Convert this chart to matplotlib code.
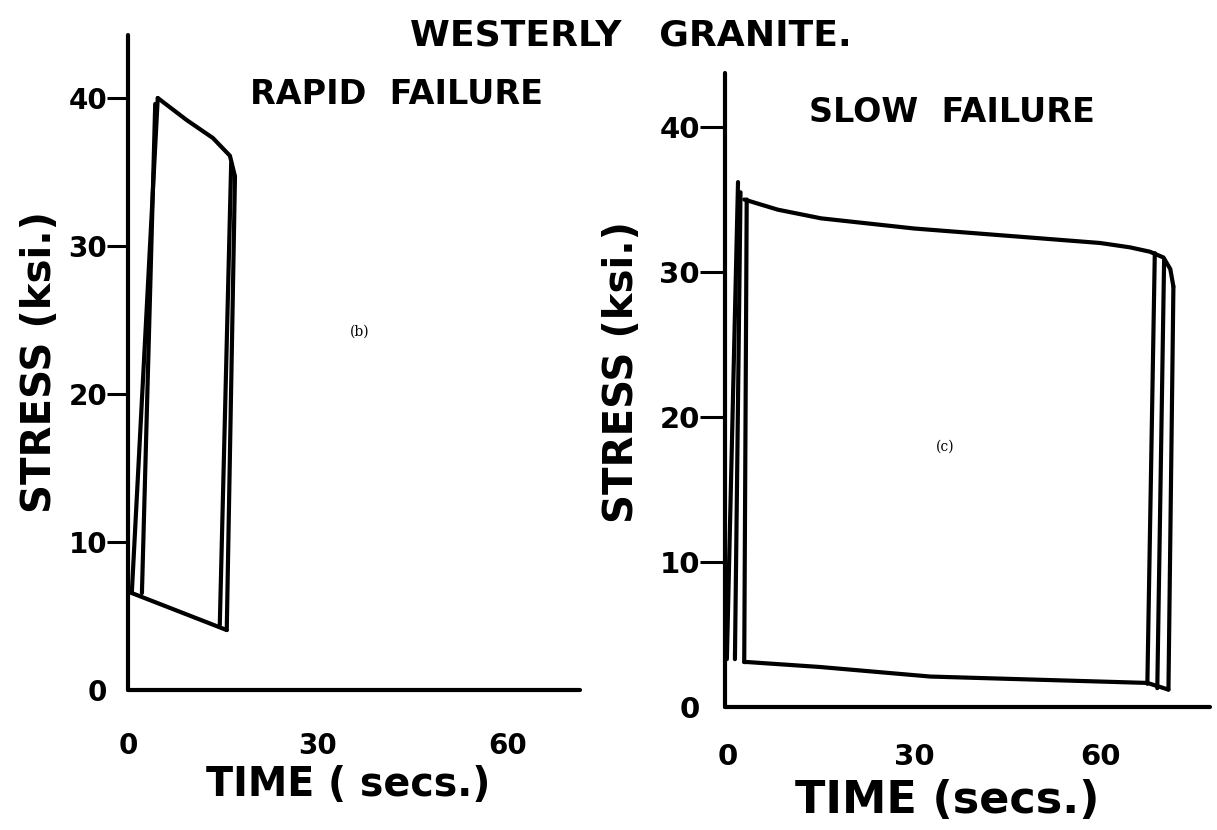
import matplotlib
matplotlib.use("Agg")
import matplotlib.pyplot as plt

plt.rcParams['font.family'] = ['DejaVu Sans']

# ---------------- data (time in s, stress in ksi) ----------------
yticks = [0, 10, 20, 30, 40]
xticks = [0, 30, 60]

# (b) rapid failure
rapid_load1_t = [0.6, 4.7]
rapid_load1_s = [6.55, 40.0]
rapid_load2_t = [2.2, 4.3]
rapid_load2_s = [6.55, 39.6]
rapid_top_t = [4.7, 9.3, 13.4, 16.1, 16.9]
rapid_top_s = [40.0, 38.5, 37.3, 36.1, 34.7]
rapid_drop1_t = [16.9, 15.6]
rapid_drop1_s = [34.7, 4.05]
rapid_drop2_t = [16.3, 14.5]
rapid_drop2_s = [35.6, 4.4]
rapid_bottom_t = [15.6, 0.6]
rapid_bottom_s = [4.05, 6.55]

# (c) slow failure
slow_load1_t = [-0.2, 1.6]
slow_load1_s = [3.3, 36.2]
slow_load2_t = [1.1, 2.0]
slow_load2_s = [3.3, 35.5]
slow_load3_t = [2.6, 3.0]
slow_load3_s = [3.1, 35.0]
slow_top_t = [2.6, 8, 15, 30, 45, 60, 64.8, 68, 70.2, 71.3, 71.8]
slow_top_s = [35.0, 34.3, 33.7, 33.0, 32.5, 32.0, 31.7, 31.4, 31.0, 30.2, 29.0]
slow_drop1_t = [71.8, 71.0]
slow_drop1_s = [29.0, 1.2]
slow_drop2_t = [70.3, 69.2]
slow_drop2_s = [30.8, 1.3]
slow_drop3_t = [68.8, 67.6]
slow_drop3_s = [31.3, 1.6]
slow_bottom_t = [71.0, 67.6, 32.6, 14.8, 3.1, 2.6]
slow_bottom_s = [1.2, 1.66, 2.1, 2.76, 3.1, 3.1]

# ---------------- figure ----------------
W, H = 1217, 830
fig = plt.figure(figsize=(W / 100, H / 100), dpi=100)
fig.patch.set_facecolor('white')

LW = 3.0
FONT = dict(family='DejaVu Sans', weight='bold')


def px_axes(x0, y0, x1, y1):
    return fig.add_axes([x0 / W, 1 - y1 / H, (x1 - x0) / W, (y1 - y0) / H])


def style(ax, xlim, ylim, xpad, ylen, fs):
    ax.set_xlim(*xlim)
    ax.set_ylim(*ylim)
    for side in ('top', 'right'):
        ax.spines[side].set_visible(False)
    for side in ('left', 'bottom'):
        ax.spines[side].set_linewidth(LW)
        ax.spines[side].set_capstyle('round')
    ax.set_yticks(yticks)
    ax.set_xticks(xticks)
    ax.set_yticklabels([str(v) for v in yticks], fontsize=fs, **FONT)
    ax.set_xticklabels([str(v) for v in xticks], fontsize=fs, **FONT)
    ax.tick_params(axis='y', length=ylen, width=2.2, pad=0, direction='out')
    ax.tick_params(axis='x', length=0, pad=xpad)
    ax.yaxis.get_major_ticks()[0].tick1line.set_visible(False)
    ax.patch.set_alpha(0)


def trace(ax, t, s):
    ax.plot(t, s, color='black', lw=LW, solid_capstyle='round',
            solid_joinstyle='round', clip_on=False)


# left panel
axL = px_axes(128, 35, 580, 690)
style(axL, (0, 452 / 6.33), (0, 655 / 14.8), 30, 15, 20)
for t, s in [(rapid_load1_t, rapid_load1_s), (rapid_load2_t, rapid_load2_s),
             (rapid_top_t, rapid_top_s), (rapid_drop1_t, rapid_drop1_s),
             (rapid_drop2_t, rapid_drop2_s), (rapid_bottom_t, rapid_bottom_s)]:
    trace(axL, t, s)
axL.text(0.513, 0.547, '(b)', transform=axL.transAxes, fontsize=10,
         family='DejaVu Serif', ha='center', va='center')

# right panel
axR = px_axes(725, 73, 1210, 707)
style(axR, (-0.5, 77.7), (0, 634 / 14.5), 26, 18, 21)
for t, s in [(slow_load1_t, slow_load1_s), (slow_load2_t, slow_load2_s),
             (slow_load3_t, slow_load3_s), (slow_top_t, slow_top_s),
             (slow_drop1_t, slow_drop1_s), (slow_drop2_t, slow_drop2_s),
             (slow_drop3_t, slow_drop3_s), (slow_bottom_t, slow_bottom_s)]:
    trace(axR, t, s)
axR.text(0.454, 0.41, '(c)', transform=axR.transAxes, fontsize=10,
         family='DejaVu Serif', ha='center', va='center')

# texts
fig.text(631 / W, 1 - 35 / H, 'WESTERLY   GRANITE.', fontsize=26,
         ha='center', va='center', **FONT)
fig.text(397 / W, 1 - 95 / H, 'RAPID  FAILURE', fontsize=24,
         ha='center', va='center', **FONT)
fig.text(952 / W, 1 - 112 / H, 'SLOW  FAILURE', fontsize=24,
         ha='center', va='center', **FONT)
fig.text(40 / W, 1 - 362 / H, 'STRESS (ksi.)', fontsize=29, rotation=90,
         ha='center', va='center', **FONT)
fig.text(622 / W, 1 - 372 / H, 'STRESS (ksi.)', fontsize=29, rotation=90,
         ha='center', va='center', **FONT)
fig.text(348 / W, 1 - 785 / H, 'TIME ( secs.)', fontsize=28.5,
         ha='center', va='center', **FONT)
fig.text(947 / W, 1 - 800 / H, 'TIME (secs.)', fontsize=32,
         ha='center', va='center', **FONT)

fig.savefig('out.png', dpi=100, facecolor='white')
